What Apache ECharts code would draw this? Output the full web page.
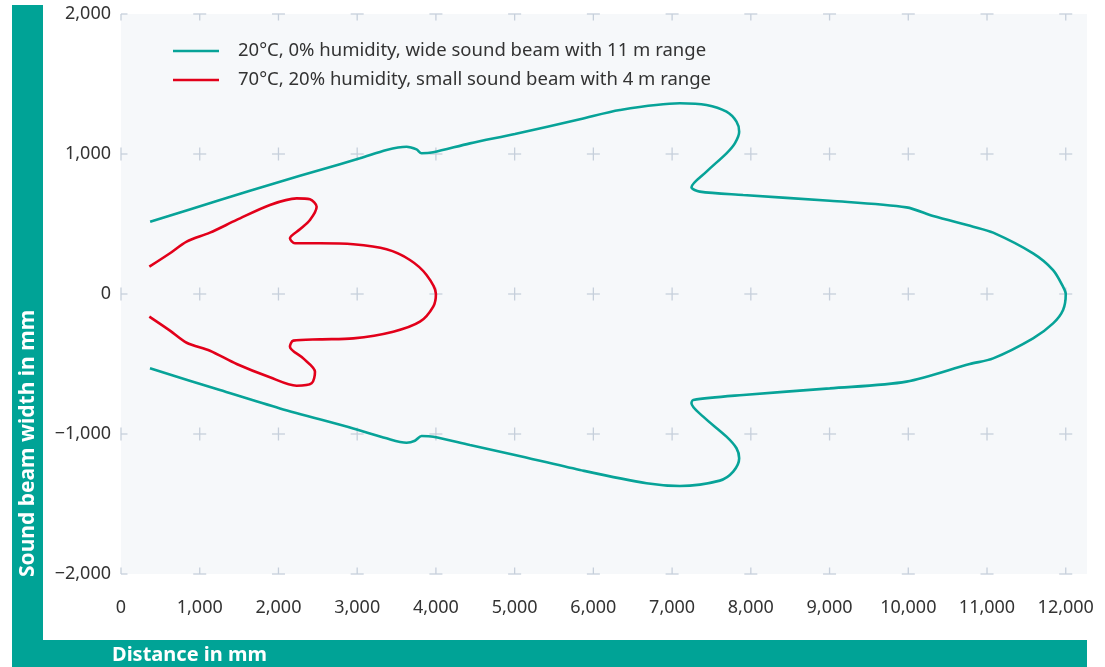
<!DOCTYPE html>
<html>
<head>
<meta charset="utf-8">
<script src="https://cdn.jsdelivr.net/npm/echarts@6/dist/echarts.min.js"></script>
<style>html,body{margin:0;padding:0;background:#fff;}#c{width:1105px;height:667px;}</style>
</head>
<body>
<div id="c"></div>
<script>
const xTicks = [0,1000,2000,3000,4000,5000,6000,7000,8000,9000,10000,11000,12000];
const yTicks = [-2000,-1000,0,1000,2000];

const seriesNames = [
  '20°C, 0% humidity, wide sound beam with 11 m range',
  '70°C, 20% humidity, small sound beam with 4 m range'
];

const wideBeam = [
  [370,516],[1257,671],[2019,802],[2527,886],[3035,969],[3373,1029],[3627,1052],[3754,1033],[3818,1005],[3966,1012],[4432,1076],[5003,1143],[5829,1248],[6337,1314],[7099,1362],[7437,1350],[7691,1302],[7818,1231],[7852,1159],[7797,1076],[7691,1005],[7437,874],[7246,762],[7352,731],[7902,707],[9003,666],[9977,619],[10316,557],[10824,481],[11078,438],[11585,290],[11839,171],[11966,52],[12000,0],
  [11966,-114],[11839,-210],[11585,-317],[11078,-460],[10781,-500],[9977,-626],[9003,-674],[7902,-721],[7268,-757],[7246,-781],[7395,-876],[7691,-1019],[7818,-1102],[7852,-1174],[7776,-1269],[7606,-1333],[7099,-1371],[6676,-1352],[5829,-1257],[5003,-1150],[4432,-1079],[3966,-1019],[3818,-1014],[3733,-1048],[3627,-1062],[3373,-1031],[2950,-960],[2019,-817],[1257,-686],[368,-531]
];

const smallBeam = [
  [360,195],[622,291],[834,374],[1130,438],[1469,529],[1892,636],[2231,683],[2400,676],[2485,624],[2400,529],[2273,462],[2146,398],[2210,362],[2527,362],[2950,355],[3373,319],[3670,243],[3881,136],[4000,0],
  [3966,-90],[3797,-198],[3458,-269],[2950,-317],[2527,-324],[2188,-333],[2146,-376],[2315,-460],[2464,-555],[2421,-638],[2231,-655],[1892,-595],[1469,-500],[1130,-405],[834,-348],[622,-262],[360,-162]
];

const TEAL = '#00a396';
const LINE_TEAL = '#07a398';
const RED = '#e2001a';
const FONT = 'Noto Sans';

const crossData = [];
xTicks.forEach(x => yTicks.forEach(y => crossData.push([x, y])));

function fmt(v) {
  const s = Math.abs(v).toLocaleString('en-US');
  return v < 0 ? '\u2212' + s : s;
}

const chart = echarts.init(document.getElementById('c'), null, {renderer: 'canvas'});
chart.setOption({
  animation: false,
  backgroundColor: '#fff',
  textStyle: {fontFamily: FONT},
  grid: {
    left: 121, right: 18, top: 14, bottom: 93,
    show: true, backgroundColor: '#f6f8fa', borderWidth: 0
  },
  legend: {
    data: seriesNames,
    orient: 'vertical',
    left: 168, top: 36,
    icon: 'rect',
    itemWidth: 46, itemHeight: 2.5,
    itemGap: 9,
    textStyle: {fontFamily: FONT, fontSize: 18.5, color: '#333', lineHeight: 20, padding: [0, 0, 0, 14]}
  },
  xAxis: {
    type: 'value', min: 0, max: 12270, interval: 1000,
    axisLine: {show: false}, axisTick: {show: false}, splitLine: {show: false},
    axisLabel: {
      showMaxLabel: false, margin: 25, fontSize: 18, color: '#333', fontFamily: FONT,
      formatter: fmt
    }
  },
  yAxis: {
    type: 'value', min: -2000, max: 2000, interval: 1000,
    axisLine: {show: false}, axisTick: {show: false}, splitLine: {show: false},
    axisLabel: {margin: 10, fontSize: 18, color: '#333', fontFamily: FONT, formatter: fmt}
  },
  graphic: [
    {type: 'rect', shape: {x: 12, y: 5, width: 31, height: 662}, style: {fill: TEAL}, z: -10},
    {type: 'rect', shape: {x: 12, y: 640, width: 1075, height: 27}, style: {fill: TEAL}, z: -10},
    {type: 'text', x: 28, y: 577, rotation: Math.PI / 2,
      style: {text: 'Sound beam width in mm', fill: '#fff', font: 'bold 21px "' + FONT + '"', textAlign: 'left', textVerticalAlign: 'middle'}},
    {type: 'text', x: 112, y: 655,
      style: {text: 'Distance in mm', fill: '#fff', font: 'bold 20px "' + FONT + '"', textAlign: 'left', textVerticalAlign: 'middle'}}
  ],
  series: [
    {
      type: 'custom', silent: true, z: 1,
      data: crossData,
      renderItem: function (params, api) {
        const p = api.coord([api.value(0), api.value(1)]);
        const cs = params.coordSys;
        const h = 6.5;
        const x1 = Math.max(p[0] - h, cs.x), x2 = Math.min(p[0] + h, cs.x + cs.width);
        const y1 = Math.max(p[1] - h, cs.y), y2 = Math.min(p[1] + h, cs.y + cs.height);
        const st = {stroke: '#c6cfdb', lineWidth: 1.3};
        return {type: 'group', children: [
          {type: 'line', shape: {x1: x1, y1: p[1], x2: x2, y2: p[1]}, style: st},
          {type: 'line', shape: {x1: p[0], y1: y1, x2: p[0], y2: y2}, style: st}
        ]};
      }
    },
    {
      name: seriesNames[0], type: 'line', data: wideBeam, z: 3,
      smooth: 0.3, showSymbol: false, symbol: 'none',
      itemStyle: {color: LINE_TEAL},
      lineStyle: {color: LINE_TEAL, width: 2.6}
    },
    {
      name: seriesNames[1], type: 'line', data: smallBeam, z: 4,
      smooth: 0.3, showSymbol: false, symbol: 'none',
      itemStyle: {color: RED},
      lineStyle: {color: RED, width: 2.6}
    }
  ]
});
</script>
</body>
</html>
